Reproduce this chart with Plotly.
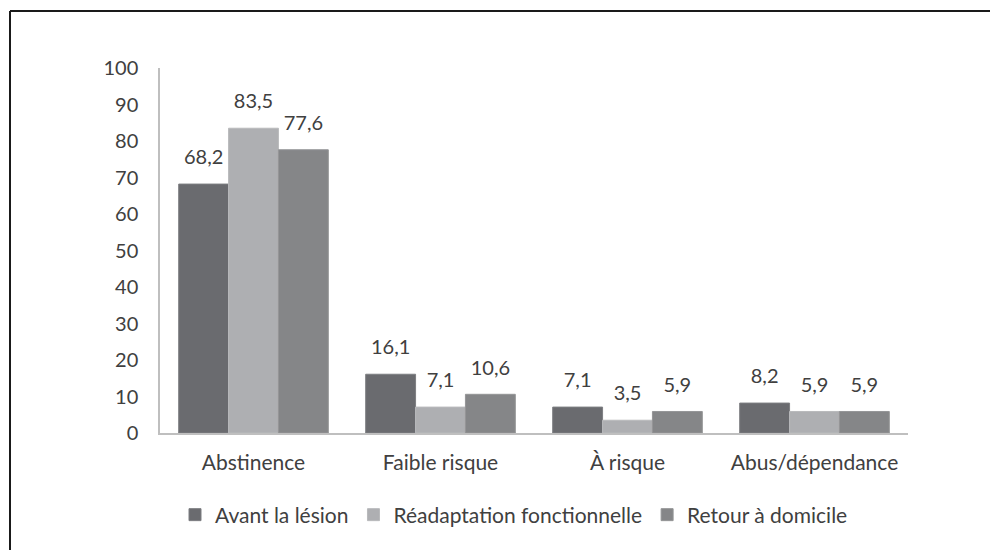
import plotly.graph_objects as go

categories = ["Abstinence", "Faible risque", "À risque", "Abus/dépendance"]
series_names = ["Avant la lésion", "Réadaptation fonctionnelle", "Retour à domicile"]
avant = [68.2, 16.1, 7.1, 8.2]
readaptation = [83.5, 7.1, 3.5, 5.9]
retour = [77.6, 10.6, 5.9, 5.9]
y_ticks = [0, 10, 20, 30, 40, 50, 60, 70, 80, 90, 100]

colors = ["#6a6b6f", "#aeafb2", "#858688"]
edge = ["#7d7e82", "#b9babc", "#949597"]
FONT = "Lato"
TXT = "#404040"

fig = go.Figure()
for i, (name, vals, c, e) in enumerate(zip(series_names, [avant, readaptation, retour], colors, edge)):
    fig.add_trace(go.Bar(
        x=categories, y=vals, name=name, offsetgroup=str(i),
        marker=dict(color=c, line=dict(color=e, width=1)),
    ))
for i, vals in enumerate([avant, readaptation, retour]):
    fig.add_trace(go.Scatter(
        x=categories, y=vals, mode="markers+text", offsetgroup=str(i),
        marker=dict(size=22, opacity=0), showlegend=False, hoverinfo="skip",
        texttemplate="%{y:.1f}", textposition="top center",
        textfont=dict(family=FONT, size=20, color=TXT), cliponaxis=False,
    ))

# the page body has an 8px margin; coordinates below are figure pixels
W, H = 998, 550
L, R, T, B = 152, 98, 60, 125
pw, ph = W - L - R, H - T - B

def px(x):
    return (x - L) / pw

def py(y):
    return (H - B - y) / ph

fig.update_layout(
    width=W, height=H,
    margin=dict(l=L, r=R, t=T, b=B),
    paper_bgcolor="white", plot_bgcolor="white",
    separators=", ",
    barmode="group", bargap=0.2, bargroupgap=0,
    scattermode="group", scattergap=0.2,
    font=dict(family=FONT, size=20, color=TXT),
    showlegend=True,
    legend=dict(orientation="h", x=px(506), xanchor="center", y=py(507), yanchor="middle",
                font=dict(family=FONT, size=21, color=TXT), itemwidth=30, traceorder="normal"),
    xaxis=dict(showline=True, linecolor="#bfbfbf", linewidth=1.5, ticks="", showgrid=False,
               tickfont=dict(family=FONT, size=21, color=TXT), ticklabelstandoff=10),
    yaxis=dict(range=[0, 100], tickvals=y_ticks, showline=True, linecolor="#bfbfbf", linewidth=1.5,
               ticks="", showgrid=False, zeroline=False, ticklabelstandoff=16,
               tickfont=dict(family=FONT, size=20, color=TXT)),
    shapes=[
        dict(type="line", xref="paper", yref="paper", x0=px(2), x1=px(2), y0=py(560), y1=py(3),
             line=dict(color="#1a1a1a", width=2)),
        dict(type="line", xref="paper", yref="paper", x0=px(2), x1=px(1000), y0=py(3), y1=py(3),
             line=dict(color="#1a1a1a", width=2)),
    ],
)

fig.write_html("out.html")
